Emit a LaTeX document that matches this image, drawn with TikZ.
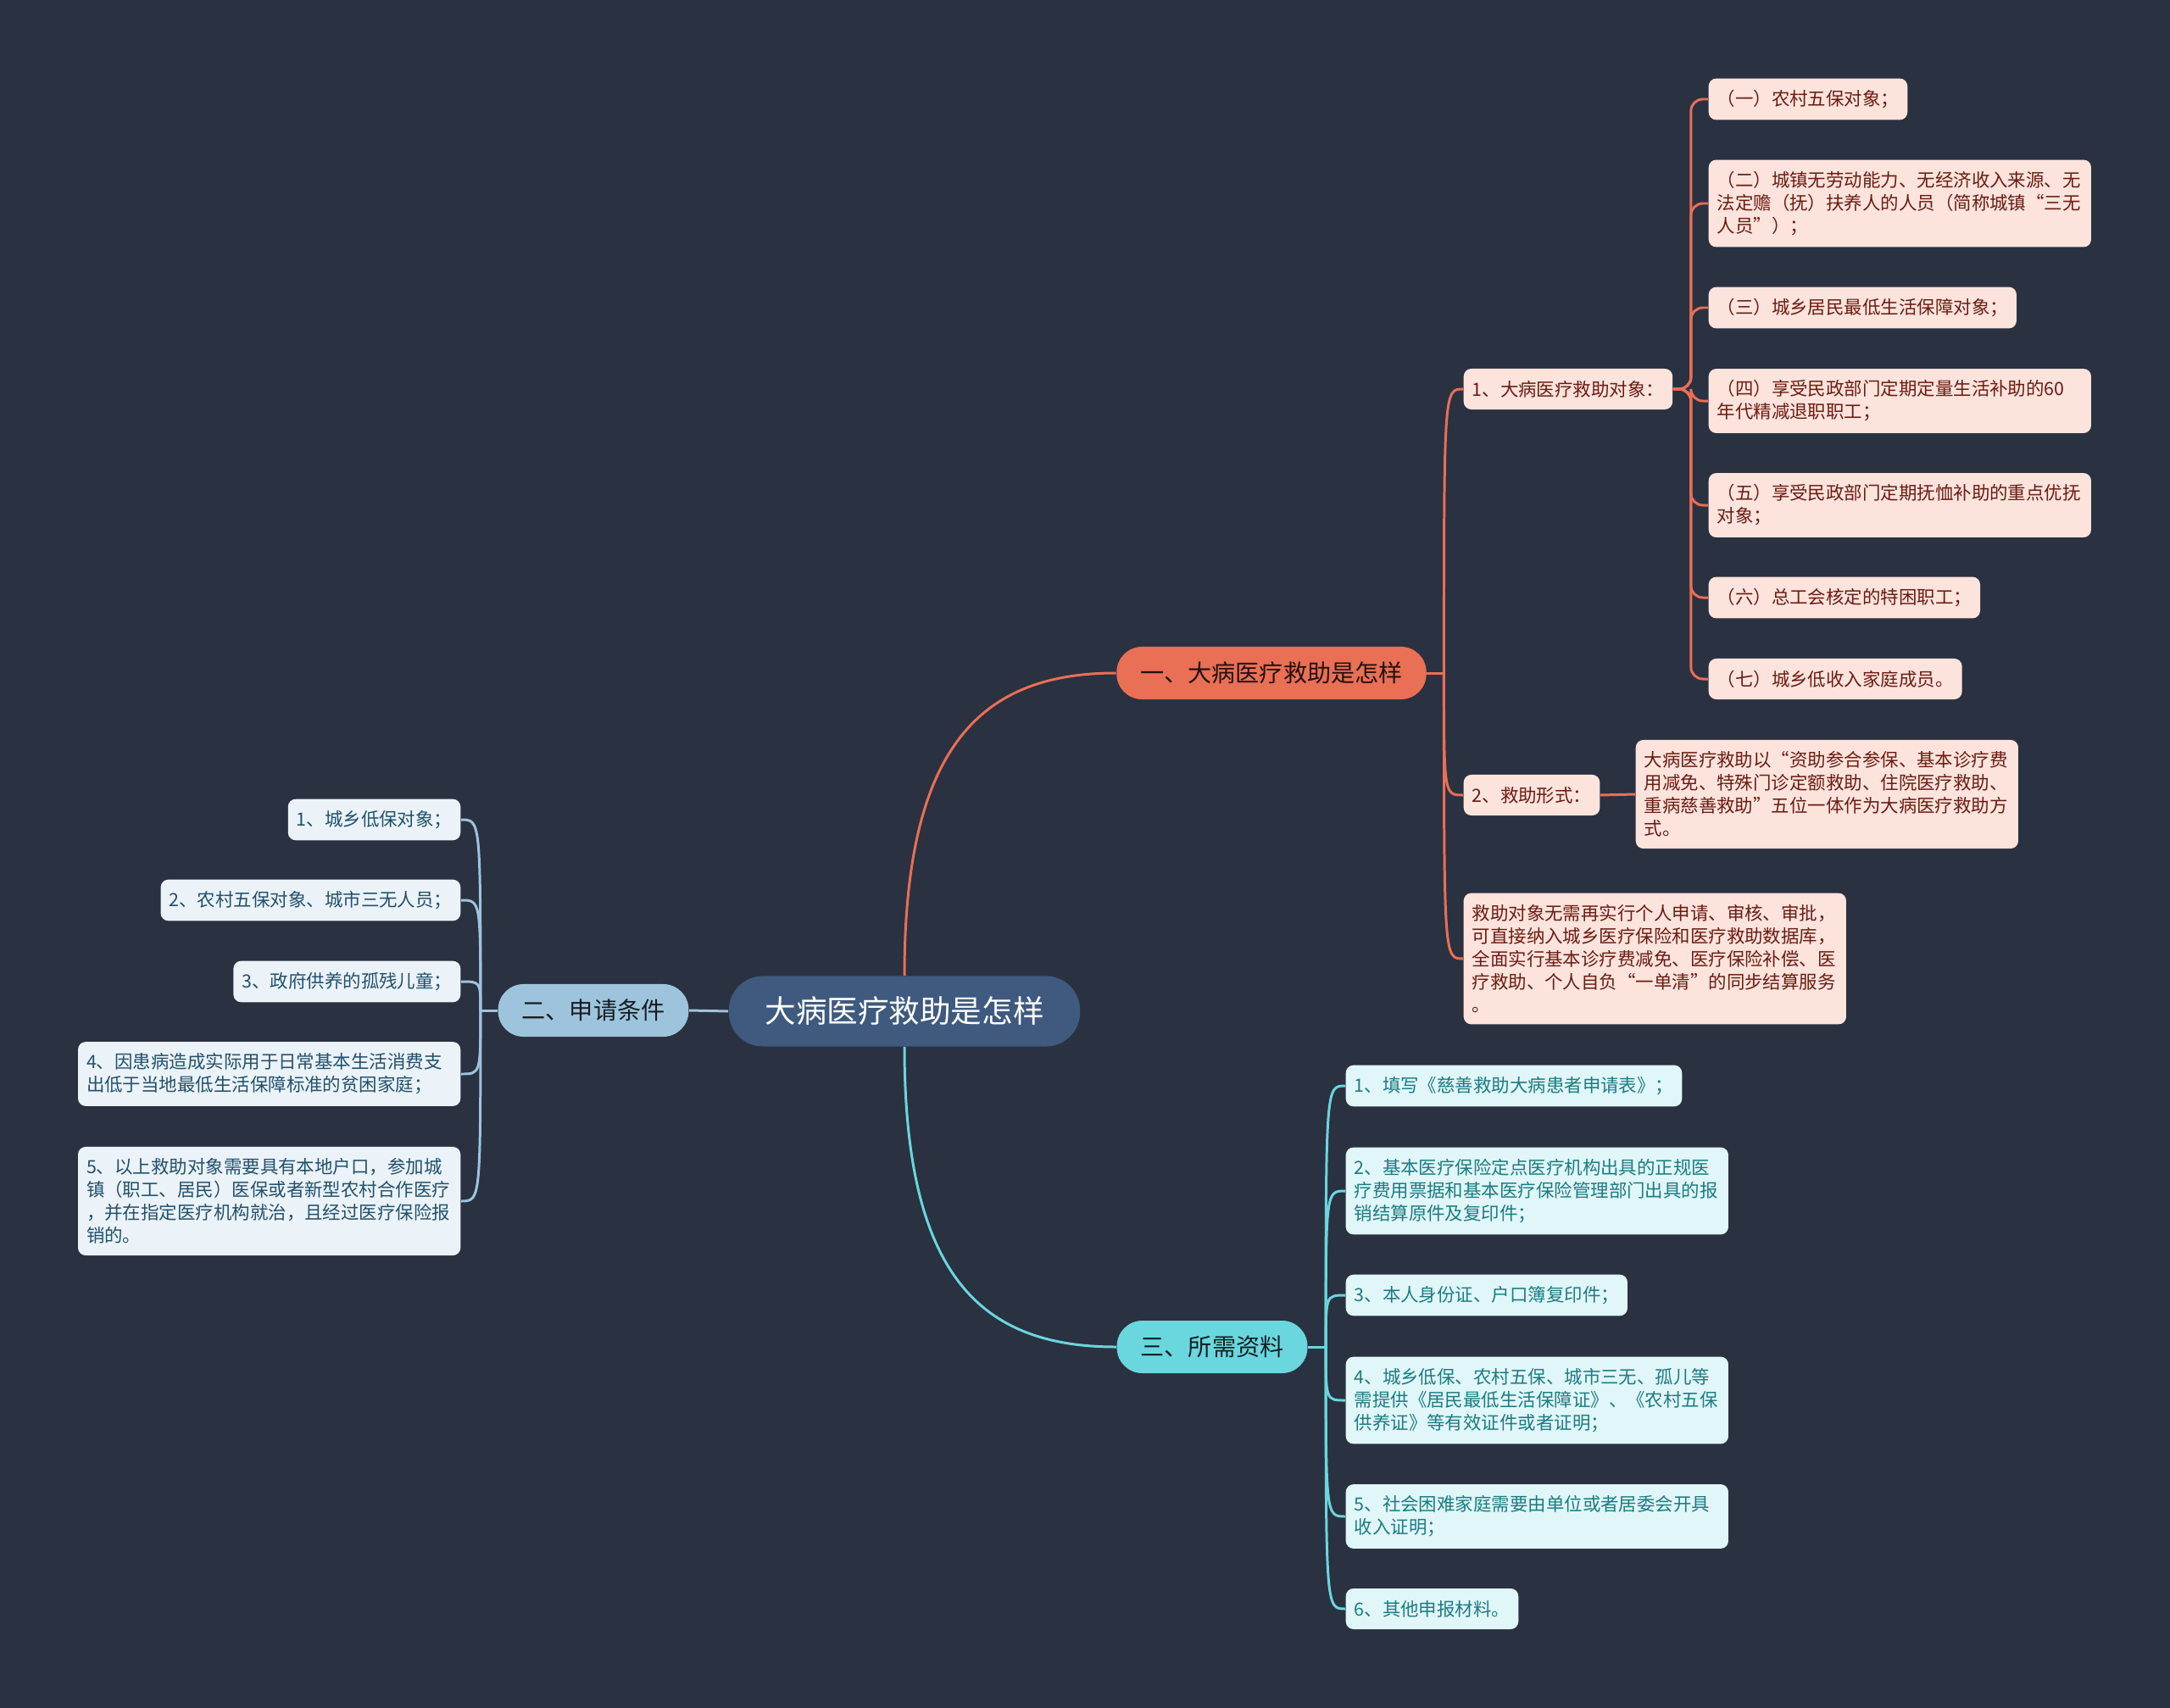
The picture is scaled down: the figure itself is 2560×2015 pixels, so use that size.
\documentclass[tikz,border=0pt]{standalone}
\usepackage{fontspec}
\setmainfont{Noto Sans CJK SC}
\usetikzlibrary{positioning}

\begin{document}
\begin{tikzpicture}[x=0.01cm,y=-0.01cm,
    rootbox/.style={fill=col_root,text=white,rounded corners=0.4cm,minimum width=4.14cm,minimum height=0.83cm,font=\fontsize{10.4}{12}\selectfont},
    topicbox/.style={rounded corners=0.3cm,minimum height=0.62cm,inner xsep=0.28cm,font=\fontsize{8}{10}\selectfont},
    leafbox/.style={rounded corners=0.09cm,inner xsep=0.1cm,inner ysep=0.135cm,minimum height=0.48cm,align=left,font=\fontsize{6.1}{7.7}\selectfont},
    widebox/.style={text width=4.31cm},
    redleaf/.style={leafbox,fill=col_red_fill,text=col_red_text},
    blueleaf/.style={leafbox,fill=col_blue_fill,text=col_blue_text},
    cyanleaf/.style={leafbox,fill=col_cyan_fill,text=col_cyan_text},
    redline/.style={draw=col_red,line width=0.85pt},
    blueline/.style={draw=col_blue,line width=0.85pt},
    cyanline/.style={draw=col_cyan,line width=0.85pt}]
    \definecolor{col_bg}{HTML}{2A3141}
    \definecolor{col_root}{HTML}{3F5A7E}
    \definecolor{col_red}{HTML}{E96F55}
    \definecolor{col_red_fill}{HTML}{FCE4DD}
    \definecolor{col_red_text}{HTML}{6B1C12}
    \definecolor{col_blue}{HTML}{9DC4DC}
    \definecolor{col_blue_fill}{HTML}{EBF3F8}
    \definecolor{col_blue_text}{HTML}{22506C}
    \definecolor{col_cyan}{HTML}{6AD6DE}
    \definecolor{col_cyan_fill}{HTML}{E1F6F8}
    \definecolor{col_cyan_text}{HTML}{1B7C83}
    \fill[col_bg] (0,0) rectangle (2560,2015);
    \useasboundingbox (0,0) rectangle (2560,2015);

    % root and the three topics
    \node[rootbox] (root) at (1067,1193) {大病医疗救助是怎样};
    \node[topicbox,fill=col_red,text=black!85!col_red] (t1) at (1500,794) {一、大病医疗救助是怎样};
    \node[topicbox,fill=col_blue,text=black!85!col_blue] (t2) at (700,1192) {二、申请条件};
    \node[topicbox,fill=col_cyan,text=black!85!col_cyan] (t3) at (1430,1589) {三、所需资料};

    % topic 1
    \node[redleaf,anchor=west] (a1) at (1726,459) {1、大病医疗救助对象：};
    \node[redleaf,anchor=west] (a2) at (1726,938) {2、救助形式：};
    \node[redleaf,widebox,anchor=west] (a2x) at (1929,937) {大病医疗救助以“资助参合参保、基本诊疗费\\用减免、特殊门诊定额救助、住院医疗救助、\\重病慈善救助”五位一体作为大病医疗救助方\\式。};
    \node[redleaf,widebox,anchor=west] (a3) at (1726,1131) {救助对象无需再实行个人申请、审核、审批，\\可直接纳入城乡医疗保险和医疗救助数据库，\\全面实行基本诊疗费减免、医疗保险补偿、医\\疗救助、个人自负“一单清”的同步结算服务\\。};
    \node[redleaf,anchor=west] (k1) at (2015,117) {（一）农村五保对象；};
    \node[redleaf,widebox,anchor=west] (k2) at (2015,240) {（二）城镇无劳动能力、无经济收入来源、无\\法定赡（抚）扶养人的人员（简称城镇“三无\\人员”）；};
    \node[redleaf,anchor=west] (k3) at (2015,363) {（三）城乡居民最低生活保障对象；};
    \node[redleaf,widebox,anchor=west] (k4) at (2015,473) {（四）享受民政部门定期定量生活补助的60\\年代精减退职职工；};
    \node[redleaf,widebox,anchor=west] (k5) at (2015,596) {（五）享受民政部门定期抚恤补助的重点优抚\\对象；};
    \node[redleaf,anchor=west] (k6) at (2015,705) {（六）总工会核定的特困职工；};
    \node[redleaf,anchor=west] (k7) at (2015,801) {（七）城乡低收入家庭成员。};

    % topic 2
    \node[blueleaf,anchor=east] (c1) at (544,967) {1、城乡低保对象；};
    \node[blueleaf,anchor=east] (c2) at (544,1062) {2、农村五保对象、城市三无人员；};
    \node[blueleaf,anchor=east] (c3) at (544,1158) {3、政府供养的孤残儿童；};
    \node[blueleaf,widebox,anchor=east] (c4) at (544,1267) {4、因患病造成实际用于日常基本生活消费支\\出低于当地最低生活保障标准的贫困家庭；};
    \node[blueleaf,widebox,anchor=east] (c5) at (544,1417) {5、以上救助对象需要具有本地户口，参加城\\镇（职工、居民）医保或者新型农村合作医疗\\，并在指定医疗机构就治，且经过医疗保险报\\销的。};

    % topic 3
    \node[cyanleaf,anchor=west] (m1) at (1587,1281) {1、填写《慈善救助大病患者申请表》；};
    \node[cyanleaf,widebox,anchor=west] (m2) at (1587,1405) {2、基本医疗保险定点医疗机构出具的正规医\\疗费用票据和基本医疗保险管理部门出具的报\\销结算原件及复印件；};
    \node[cyanleaf,anchor=west] (m3) at (1587,1528) {3、本人身份证、户口簿复印件；};
    \node[cyanleaf,widebox,anchor=west] (m4) at (1587,1652) {4、城乡低保、农村五保、城市三无、孤儿等\\需提供《居民最低生活保障证》、《农村五保\\供养证》等有效证件或者证明；};
    \node[cyanleaf,widebox,anchor=west] (m5) at (1587,1789) {5、社会困难家庭需要由单位或者居委会开具\\收入证明；};
    \node[cyanleaf,anchor=west] (m6) at (1587,1898) {6、其他申报材料。};

    % connectors
    \draw[redline] (root.north) .. controls +(0,-270) and +(-160,0) .. (t1.west);
    \draw[cyanline] (root.south) .. controls +(0,270) and +(-160,0) .. (t3.west);
    \draw[blueline] (root.west) -- (t2.east);

    \draw[redline] (t1.east) -- ++(20,0) coordinate (j1);
    \foreach \n in {a1,a2,a3}
        \draw[redline] (j1) .. controls (j1 |- \n.west) .. (\n.west);
    \draw[redline] (a2.east) -- (a2x.west);
    \foreach \n in {k1,k2,k3,k4,k5,k6,k7}
        \draw[redline,rounded corners=0.14cm] (a1.east) -- ++(21,0) |- (\n.west);

    \draw[blueline] (t2.west) -- ++(-20,0) coordinate (j2);
    \foreach \n in {c1,c2,c3,c4,c5}
        \draw[blueline] (j2) .. controls (j2 |- \n.east) .. (\n.east);

    \draw[cyanline] (t3.east) -- ++(21,0) coordinate (j3);
    \foreach \n in {m1,m2,m3,m4,m5,m6}
        \draw[cyanline] (j3) .. controls (j3 |- \n.west) .. (\n.west);
\end{tikzpicture}
\end{document}
